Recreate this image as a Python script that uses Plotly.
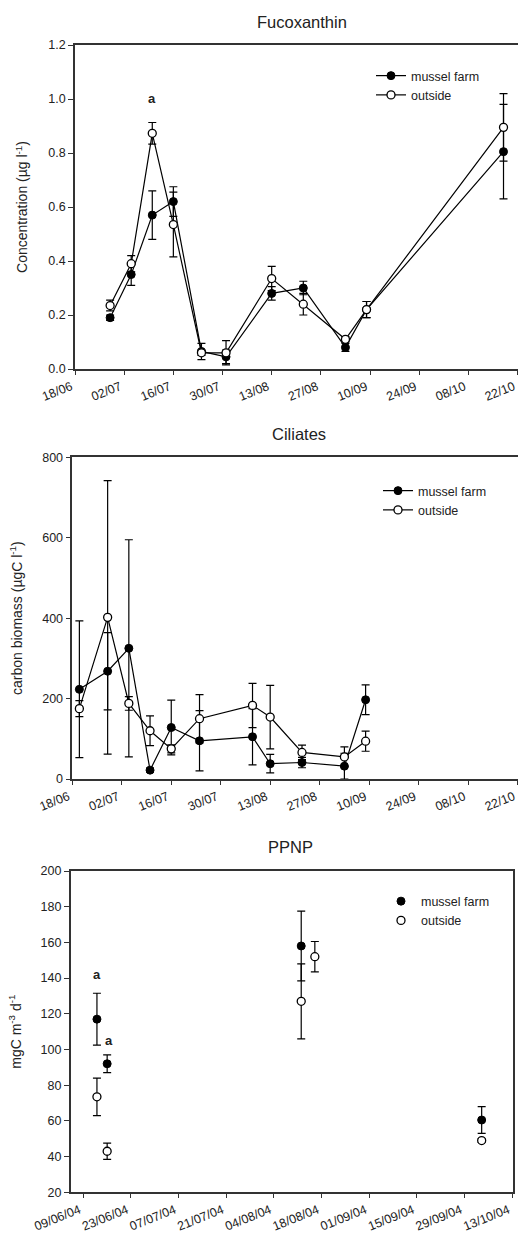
import plotly.graph_objects as go

# ---------------- data ----------------
fuco_dates = ['2004-06-28', '2004-07-04', '2004-07-10', '2004-07-16', '2004-07-24', '2004-07-31',
              '2004-08-13', '2004-08-22', '2004-09-03', '2004-09-09', '2004-10-18']
fuco_farm = [0.19, 0.35, 0.57, 0.62, 0.065, 0.045, 0.28, 0.30, 0.08, 0.22, 0.805]
fuco_farm_err = [0.01, 0.04, 0.09, 0.055, 0.03, 0.025, 0.025, 0.025, 0.015, 0.03, 0.175]
fuco_out = [0.235, 0.39, 0.873, 0.535, 0.06, 0.06, 0.335, 0.24, 0.11, 0.22, 0.895]
fuco_out_err = [0.02, 0.03, 0.04, 0.12, 0.01, 0.045, 0.045, 0.04, 0.01, 0.03, 0.125]

cil_dates = ['2004-06-20', '2004-06-28', '2004-07-04', '2004-07-10', '2004-07-16', '2004-07-24',
             '2004-08-08', '2004-08-13', '2004-08-22', '2004-09-03', '2004-09-09']
cil_farm = [223, 268, 325, 22, 128, 95, 105, 38, 41, 32, 197]
cil_farm_err = [170, 96, 270, 5, 68, 75, 70, 23, 13, 32, 37]
cil_out = [175, 402, 188, 120, 75, 150, 183, 154, 66, 55, 94]
cil_out_err = [20, 340, 17, 37, 10, 60, 55, 79, 18, 25, 25]

ppnp_farm_dates = ['2004-06-13', '2004-06-16', '2004-08-12', '2004-10-04']
ppnp_farm = [117, 92, 158, 60.5]
ppnp_farm_err = [14.5, 5, 19.5, 7.5]
ppnp_out_dates = ['2004-06-13', '2004-06-16', '2004-08-12', '2004-08-16', '2004-10-04']
ppnp_out = [73.5, 43, 127, 152, 49]
ppnp_out_err = [10.5, 4.5, 21, 8.5, 1]

series_names = ['mussel farm', 'outside']

# ---------------- layout helpers ----------------
W, H = 518, 1234
FONT = 'Arial, Liberation Sans, sans-serif'
INK = '#222222'
AX = '#333333'


def px_x(p):
    return p / W


def px_y(p):
    return 1 - p / H


fig = go.Figure()


def add_pair(xa, ya, legend, dates_f, vals_f, err_f, dates_o, vals_o, err_o, mode):
    fig.add_trace(go.Scatter(
        x=dates_f, y=vals_f, mode=mode, name=series_names[0],
        xaxis=xa, yaxis=ya, legend=legend,
        line=dict(color='black', width=1.2),
        marker=dict(symbol='circle', size=8, color='black', line=dict(color='black', width=1)),
        error_y=dict(type='data', array=err_f, visible=True, color='black', thickness=1.2, width=4),
    ))
    fig.add_trace(go.Scatter(
        x=dates_o, y=vals_o, mode=mode, name=series_names[1],
        xaxis=xa, yaxis=ya, legend=legend,
        line=dict(color='black', width=1.2),
        marker=dict(symbol='circle', size=8, color='white', line=dict(color='black', width=1.3)),
        error_y=dict(type='data', array=err_o, visible=True, color='black', thickness=1.2, width=4),
    ))


add_pair('x', 'y', 'legend', fuco_dates, fuco_farm, fuco_farm_err, fuco_dates, fuco_out, fuco_out_err, 'lines+markers')
add_pair('x2', 'y2', 'legend2', cil_dates, cil_farm, cil_farm_err, cil_dates, cil_out, cil_out_err, 'lines+markers')
add_pair('x3', 'y3', 'legend3', ppnp_farm_dates, ppnp_farm, ppnp_farm_err, ppnp_out_dates, ppnp_out, ppnp_out_err, 'markers')

tickfont = dict(family=FONT, size=12.5, color=INK)
DAY = 86400000

common_x = dict(type='date', showline=True, linecolor=AX, linewidth=1.5, ticks='outside',
                ticklen=4, tickcolor=AX, tickangle=-22, tickfont=tickfont,
                showgrid=False, zeroline=False, dtick=14 * DAY, automargin=False,
                ticklabeloverflow='allow', ticklabelshift=-4)
common_y = dict(showline=True, linecolor=AX, linewidth=1.5, ticks='outside', ticklen=5,
                tickcolor=AX, tickfont=tickfont, showgrid=False, zeroline=False, automargin=False)

ytitle_font = dict(family=FONT, size=14, color=INK)
legend_font = dict(family=FONT, size=12.5, color=INK)

fig.update_layout(
    width=W, height=H, margin=dict(l=0, r=0, t=0, b=0, autoexpand=False),
    paper_bgcolor='white', plot_bgcolor='white',
    font=dict(family=FONT, color=INK),
    xaxis=dict(common_x, domain=[px_x(75), 1.0], anchor='y', mirror=True,
               range=['2004-06-18', '2004-10-22 03:00'], tick0='2004-06-18', tickformat='%d/%m'),
    yaxis=dict(common_y, domain=[px_y(369), px_y(45)], anchor='x', range=[0, 1.2], dtick=0.2,
               tickformat='.1f',
               title=dict(text='Concentration (µg l<sup>-1</sup>)', font=ytitle_font, standoff=17)),
    xaxis2=dict(common_x, domain=[px_x(72.3), 1.0], anchor='y2', mirror=True,
                range=['2004-06-18', '2004-10-22 03:00'], tick0='2004-06-18', tickformat='%d/%m'),
    yaxis2=dict(common_y, domain=[px_y(779), px_y(457.3)], anchor='x2', range=[0, 800], dtick=200,
                title=dict(text='carbon biomass (µgC l<sup>-1</sup>)', font=ytitle_font, standoff=16)),
    xaxis3=dict(common_x, domain=[px_x(70.7), px_x(513.3)], anchor='y3', mirror=True,
                range=['2004-06-05 07:00', '2004-10-13 07:00'], tick0='2004-06-09', tickformat='%d/%m/%y'),
    yaxis3=dict(common_y, domain=[px_y(1192.3), px_y(871)], anchor='x3', range=[20, 200], dtick=20,
                mirror=True,
                title=dict(text='mgC m<sup>-3</sup> d<sup>-1</sup>', font=ytitle_font, standoff=16)),
    legend=dict(x=px_x(371), y=px_y(61), xanchor='left', yanchor='top', bgcolor='rgba(0,0,0,0)',
                font=legend_font, itemwidth=30),
    legend2=dict(x=px_x(378), y=px_y(476), xanchor='left', yanchor='top', bgcolor='rgba(0,0,0,0)',
                 font=legend_font, itemwidth=30),
    legend3=dict(x=px_x(381), y=px_y(886.5), xanchor='left', yanchor='top', bgcolor='rgba(0,0,0,0)',
                 font=legend_font, itemwidth=30),
    showlegend=True,
)

# panel titles
for text, cx, cy in [('Fucoxanthin', 302, 22), ('Ciliates', 299, 434), ('PPNP', 290, 847)]:
    fig.add_annotation(text=text, x=px_x(cx), y=px_y(cy), xref='paper', yref='paper',
                       showarrow=False, font=dict(family=FONT, size=16.5, color=INK),
                       xanchor='center', yanchor='middle')

# significance letters
bold_a = dict(family=FONT, size=13, color=INK)
fig.add_annotation(text='<b>a</b>', x=fuco_dates[2], y=1.0, xref='x', yref='y', showarrow=False, font=bold_a)
fig.add_annotation(text='<b>a</b>', x=ppnp_farm_dates[0], y=142, xref='x3', yref='y3', showarrow=False, font=bold_a)
fig.add_annotation(text='<b>a</b>', x='2004-06-16 12:00', y=105, xref='x3', yref='y3', showarrow=False, font=bold_a)

fig.write_html('out.html')
